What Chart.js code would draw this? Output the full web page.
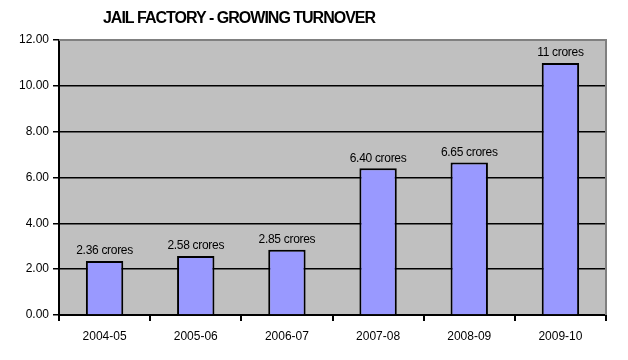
<!DOCTYPE html>
<html>
<head>
<meta charset="utf-8">
<script src="https://cdn.jsdelivr.net/npm/chart.js@4"></script>
<style>
  html, body { margin: 0; padding: 0; background: #fff; }
  #wrap { width: 628px; height: 360px; }
</style>
</head>
<body>
<div id="wrap"><canvas id="turnover"></canvas></div>
<script>
const years = ['2004-05', '2005-06', '2006-07', '2007-08', '2008-09', '2009-10'];
const turnover = [2.36, 2.58, 2.85, 6.40, 6.65, 11];
const barLabels = ['2.36 crores', '2.58 crores', '2.85 crores', '6.40 crores', '6.65 crores', '11 crores'];
const chartTitle = 'JAIL FACTORY - GROWING TURNOVER';

// gray plot background, gray top/right border, title and value labels
const decorations = {
    id: 'decorations',
    beforeDraw(chart) {
        const { ctx, chartArea: a } = chart;
        ctx.save();
        ctx.fillStyle = '#C0C0C0';
        ctx.fillRect(a.left, a.top, a.right - a.left, a.bottom - a.top);
        ctx.restore();
    },
    afterDraw(chart) {
        const { ctx, chartArea: a } = chart;
        ctx.save();
        ctx.strokeStyle = '#808080';
        ctx.lineWidth = 2;
        ctx.beginPath();
        ctx.moveTo(a.left, a.top);
        ctx.lineTo(a.right, a.top);
        ctx.lineTo(a.right, a.bottom);
        ctx.stroke();

        ctx.fillStyle = '#000';
        ctx.font = 'bold 16px "Liberation Sans", Arial, sans-serif';
        ctx.letterSpacing = '-1px';
        ctx.textAlign = 'center';
        ctx.textBaseline = 'middle';
        ctx.fillText(chartTitle, 239, 19);

        ctx.font = '12px "Liberation Sans", Arial, sans-serif';
        ctx.letterSpacing = '-0.3px';
        ctx.textBaseline = 'bottom';
        const meta = chart.getDatasetMeta(0);
        meta.data.forEach(function (bar, i) {
            ctx.fillText(barLabels[i], bar.x, bar.y - 4);
        });
        ctx.restore();
    }
};

const ctx = document.getElementById('turnover');

new Chart(ctx, {
    type: 'bar',
    data: {
        labels: years,
        datasets: [{
            data: turnover,
            backgroundColor: '#9999FF',
            borderColor: '#000',
            borderWidth: 2,
            barPercentage: 0.41,
            categoryPercentage: 1
        }]
    },
    options: {
        responsive: true,
        maintainAspectRatio: false,
        animation: false,
        layout: { padding: { left: 0, top: 40, right: 22, bottom: 0 } },
        plugins: {
            legend: { display: false },
            tooltip: { enabled: false }
        },
        scales: {
            y: {
                min: 0,
                max: 12,
                afterFit: function (s) { s.width = 59; },
                ticks: {
                    stepSize: 2,
                    color: '#000',
                    padding: 4,
                    font: { family: '"Liberation Sans", Arial, sans-serif', size: 12 },
                    callback: function (v) { return v.toFixed(2); }
                },
                grid: {
                    color: function (c) { return c.tick && c.tick.value === 12 ? 'rgba(0,0,0,0)' : '#000'; },
                    lineWidth: 1.5,
                    tickLength: 6,
                    tickColor: '#000'
                },
                border: { color: '#000', width: 2 }
            },
            x: {
                afterFit: function (s) { s.height = 45; },
                ticks: {
                    color: '#000',
                    padding: 8,
                    font: { family: '"Liberation Sans", Arial, sans-serif', size: 12 }
                },
                grid: {
                    drawOnChartArea: false,
                    tickLength: 6,
                    tickColor: '#000',
                    lineWidth: 2
                },
                border: { color: '#000', width: 2 }
            }
        }
    },
    plugins: [decorations]
});
</script>
</body>
</html>
